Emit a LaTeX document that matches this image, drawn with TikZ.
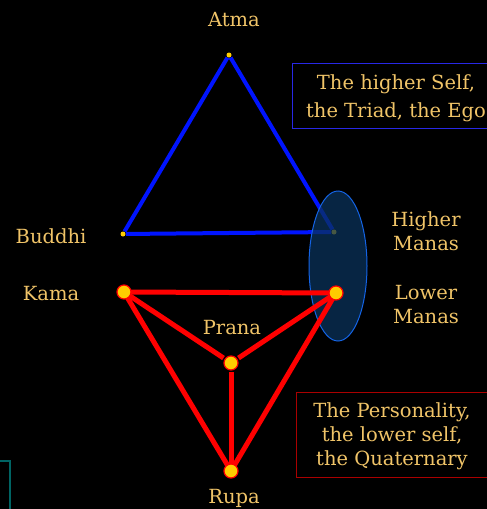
\documentclass[tikz,border=0pt]{standalone}
\usepackage{fontspec}
\setmainfont{DejaVu Serif}
\definecolor{gold}{RGB}{240,196,104}
\definecolor{dotfill}{RGB}{255,204,0}
\definecolor{bluel}{RGB}{0,20,255}
\definecolor{redl}{RGB}{255,0,0}
\definecolor{ellfill}{RGB}{10,50,90}
\definecolor{ellline}{RGB}{20,100,230}
\definecolor{boxred}{RGB}{170,0,0}
\definecolor{boxblue}{RGB}{40,40,230}
\definecolor{tealc}{RGB}{0,100,100}
\tikzset{
  lbl/.style={text=gold, font=\fontsize{19.5}{24}\selectfont, align=center, inner sep=0pt},
  smalldot/.style={circle, fill=dotfill, inner sep=0pt, minimum size=5pt},
  bigdot/.style={circle, fill=dotfill, draw=redl, line width=1.2pt, inner sep=0pt, minimum size=14pt},
  blueline/.style={draw=bluel, line width=4pt},
  redline/.style={draw=redl, line width=5pt},
}
\begin{document}
\begin{tikzpicture}[x=1pt,y=-1pt]
\fill[black] (0,0) rectangle (487,509);
\useasboundingbox (0,0) rectangle (487,509);
% coordinates
\coordinate (A) at (229,55);
\coordinate (B) at (123,234);
\coordinate (H) at (334,232);
\coordinate (K) at (124,292);
\coordinate (L) at (336,293);
\coordinate (P) at (231,363);
\coordinate (R) at (231,471);
% blue triangle
\draw[blueline, shorten <=3pt, shorten >=3pt] (A) -- (B);
\draw[blueline, shorten <=3pt, shorten >=3pt] (A) -- (H);
\draw[blueline, shorten <=3pt, shorten >=3pt] (B) -- (H);
\node[smalldot] (a) at (A) {};
\node[smalldot] (b) at (B) {};
\node[smalldot] (h) at (H) {};
% ellipse
\fill[ellfill, fill opacity=0.75] (338,266) ellipse [x radius=29, y radius=75];
\draw[ellline, line width=1pt] (338,266) ellipse [x radius=29, y radius=75];
% red lines
\draw[redline] (K) -- (L);
\draw[redline] (K) -- (R);
\draw[redline] (L) -- (R);
\draw[redline, shorten >=9pt] (K) -- (P);
\draw[redline, shorten >=9pt] (L) -- (P);
\draw[redline, shorten >=9pt] (R) -- (P);
\node[bigdot] (k) at (K) {};
\node[bigdot] (l) at (L) {};
\node[bigdot] (p) at (P) {};
\node[bigdot] (r) at (R) {};
% labels
\node[lbl] (atma) at (234,20) {Atma};
\node[lbl] (buddhi) at (51,236) {Buddhi};
\node[lbl] (kama) at (51,294) {Kama};
\node[lbl] (prana) at (232,328) {Prana};
\node[lbl] (rupa) at (234,498) {Rupa};
\node[lbl] (hm) at (426,231) {Higher\\Manas};
\node[lbl] (lm) at (426,305) {Lower\\Manas};
% boxes
\draw[boxblue, line width=1pt] (292.5,63.5) rectangle (495,128);
\node[lbl, font=\fontsize{19.5}{28}\selectfont] (t1) at (396,98) {The higher Self,\\the Triad, the Ego};
\draw[boxred, line width=1pt] (296.5,392.5) rectangle (495,477);
\node[lbl] (t2) at (392,436) {The Personality,\\the lower self,\\the Quaternary};
% teal fragment
\draw[tealc, line width=1.5pt] (-2,461) -- (10,461) -- (10,512);
\end{tikzpicture}
\end{document}
